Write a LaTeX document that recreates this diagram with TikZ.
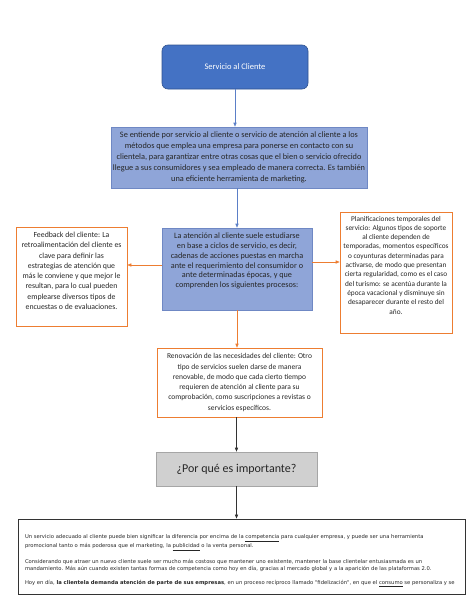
\documentclass[tikz,border=0pt]{standalone}
\usepackage{fontspec}
\setmainfont{Carlito}
\newfontfamily\notafont{DejaVu Sans}
\usetikzlibrary{arrows.meta}
\definecolor{CabeceraClr}{HTML}{4472C4}
\definecolor{CabeceraBorde}{HTML}{2F528F}
\definecolor{AzulClr}{HTML}{8FA5D8}
\definecolor{AzulBorde}{HTML}{6F88C4}
\definecolor{FlechaAzul}{HTML}{5B7FC7}
\definecolor{NaranjaClr}{HTML}{ED7D31}
\definecolor{GrisClr}{HTML}{D0D0D0}
\definecolor{GrisBorde}{HTML}{A6A6A6}

% text hung from the top of its box: width, height, top gap, text
\newcommand{\arriba}[4]{\parbox[c][#2][t]{#1}{\vspace*{#3}\centering #4\par}}

\begin{document}
\begin{tikzpicture}[x=1pt,y=-1pt,
  caja/.style={draw,line width=0.6pt,inner sep=0pt,align=center},
  cabecera/.style={caja,rounded corners=6pt,fill=CabeceraClr,draw=CabeceraBorde,text=white,font=\fontsize{8.5}{10}\selectfont},
  azul/.style={caja,fill=AzulClr,draw=AzulBorde,text=black!85},
  naranja/.style={caja,fill=white,draw=NaranjaClr,text=black!85},
  gris/.style={caja,fill=GrisClr,draw=GrisBorde,text=black!85,font=\fontsize{12}{14}\selectfont},
  nota/.style={caja,draw=black!80,line width=0.9pt,text=black!85,font=\notafont\fontsize{5.25}{6.5}\selectfont},
  flecha/.style={-{Triangle[length=4pt,width=3.2pt]},line width=0.6pt},
]
\useasboundingbox (0,0) rectangle (474,613);

\node[cabecera,minimum width=146pt,minimum height=44pt] (servicio) at (235,67) {Servicio al Cliente};

\node[azul,minimum width=256pt,minimum height=61pt,font=\fontsize{8.3}{11}\selectfont] (definicion) at (239,157.5)
  {Se entiende por servicio al cliente o servicio de atención al cliente a los\\
   métodos que emplea una empresa para ponerse en contacto con su\\
   clientela, para garantizar entre otras cosas que el bien o servicio ofrecido\\
   llegue a sus consumidores y sea empleado de manera correcta. Es también\\
   una eficiente herramienta de marketing.};

\node[azul,minimum width=150pt,minimum height=82pt,font=\fontsize{8.2}{9.8}\selectfont] (ciclos) at (237,269)
  {\arriba{146pt}{82pt}{5pt}{La atención al cliente suele estudiarse\\
   en base a ciclos de servicio, es decir,\\
   cadenas de acciones puestas en marcha\\
   ante el requerimiento del consumidor o\\
   ante determinadas épocas, y que\\
   comprenden los siguientes procesos:}};

\node[naranja,minimum width=111pt,minimum height=99pt,font=\fontsize{7.8}{10.3}\selectfont] (feedback) at (71.5,276.5)
  {\arriba{107pt}{99pt}{5pt}{Feedback del cliente: La\\
   retroalimentación del cliente es\\
   clave para definir las\\
   estrategias de atención que\\
   más le conviene y que mejor le\\
   resultan, para lo cual pueden\\
   emplearse diversos tipos de\\
   encuestas o de evaluaciones.}};

\node[naranja,minimum width=112pt,minimum height=121pt,font=\fontsize{7.3}{9.3}\selectfont] (planif) at (396,272.5)
  {\arriba{111pt}{121pt}{4pt}{Planificaciones temporales del\\
   servicio: Algunos tipos de soporte\\
   al cliente dependen de\\
   temporadas, momentos específicos\\
   o coyunturas determinadas para\\
   activarse, de modo que presentan\\
   cierta regularidad, como es el caso\\
   del turismo: se acentúa durante la\\
   época vacacional y disminuye sin\\
   desaparecer durante el resto del\\
   año.}};

\node[naranja,minimum width=165pt,minimum height=69pt,font=\fontsize{7.5}{10.3}\selectfont] (renovacion) at (239.5,382.5)
  {Renovación de las necesidades del cliente: Otro\\
   tipo de servicios suelen darse de manera\\
   renovable, de modo que cada cierto tiempo\\
   requieren de atención al cliente para su\\
   comprobación, como suscripciones a revistas o\\
   servicios específicos.};

\node[gris,minimum width=161pt,minimum height=34pt] (importante) at (236.5,469) {¿Por qué es importante?};

\node[nota,minimum width=447pt,minimum height=75pt] (texto) at (241.5,556.5)
  {\parbox[c][75pt][t]{433pt}{\vspace*{16pt}\raggedright
   Un servicio adecuado al cliente puede bien significar la diferencia por encima de la \underline{competencia} para cualquier empresa, y puede ser una herramienta\\
   promocional tanto o más poderosa que el marketing, la \underline{publicidad} o la venta personal.\\[8pt]
   Considerando que atraer un nuevo cliente suele ser mucho más costoso que mantener uno existente, mantener la base clientelar entusiasmada es un\\
   mandamiento. Más aún cuando existen tantas formas de competencia como hoy en día, gracias al mercado global y a la aparición de las plataformas 2.0.\\[8pt]
   Hoy en día, \textbf{la clientela demanda atención de parte de sus empresas}, en un proceso recíproco llamado "fidelización", en que el \underline{consumo} se personaliza y se\par}};

% connectors
\coordinate (salidaizq) at ([yshift=4pt]ciclos.west);
\coordinate (salidader) at ([yshift=7pt]ciclos.east);
\draw[flecha,FlechaAzul] (servicio.south) -- (servicio.south |- definicion.north);
\draw[flecha,FlechaAzul] (ciclos.north |- definicion.south) -- (ciclos.north);
\draw[flecha,NaranjaClr] (salidaizq) -- (feedback.east |- salidaizq);
\draw[flecha,NaranjaClr] (salidader) -- (planif.west |- salidader);
\draw[flecha,NaranjaClr] (ciclos.south) -- (ciclos.south |- renovacion.north);
\draw[flecha,black!80] (importante.north |- renovacion.south) -- (importante.north);
\draw[flecha,black!80] (importante.south) -- (importante.south |- texto.north);

\end{tikzpicture}
\end{document}
